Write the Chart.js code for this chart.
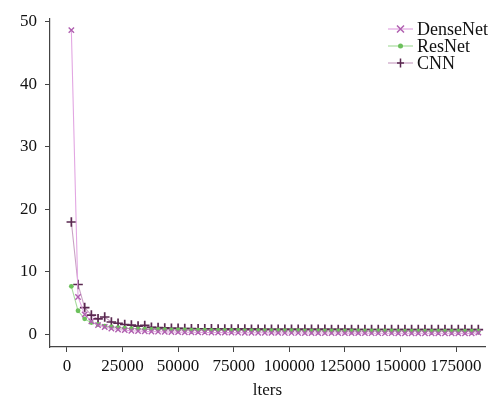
<!DOCTYPE html>
<html>
<head>
<meta charset="utf-8">
<script src="https://cdn.jsdelivr.net/npm/chart.js@4"></script>
<style>
  html, body { margin: 0; padding: 0; background: #fff; }
  #wrap { width: 502px; height: 405px; }
</style>
</head>
<body>
<div id="wrap"><canvas id="lossChart" width="502" height="405"></canvas></div>
<script>
// iterations where the loss was logged
const iters = [2000, 5000, 8000, 11000, 14000, 17000, 20000, 23000, 26000, 29000,
  32000, 35000, 38000, 41000, 44000, 47000, 50000, 53000, 56000, 59000,
  62000, 65000, 68000, 71000, 74000, 77000, 80000, 83000, 86000, 89000,
  92000, 95000, 98000, 101000, 104000, 107000, 110000, 113000, 116000, 119000,
  122000, 125000, 128000, 131000, 134000, 137000, 140000, 143000, 146000, 149000,
  152000, 155000, 158000, 161000, 164000, 167000, 170000, 173000, 176000, 179000,
  182000, 185000];

const denseNetLoss = [48.7, 6.0, 3.2, 2.1, 1.5, 1.2, 0.95, 0.8, 0.7, 0.6,
  0.55, 0.5, 0.48, 0.45, 0.42, 0.4, 0.38, 0.36, 0.35, 0.34,
  0.33, 0.32, 0.31, 0.3, 0.3, 0.29, 0.28, 0.28, 0.27, 0.27,
  0.26, 0.26, 0.25, 0.25, 0.25, 0.24, 0.24, 0.24, 0.23, 0.23,
  0.23, 0.22, 0.22, 0.22, 0.22, 0.21, 0.21, 0.21, 0.21, 0.2,
  0.2, 0.2, 0.2, 0.2, 0.19, 0.19, 0.19, 0.19, 0.19, 0.18,
  0.18, 0.3];

const resNetLoss = [7.7, 3.8, 2.5, 1.9, 1.6, 1.35, 1.2, 1.1, 1.0, 0.95,
  0.9, 0.85, 0.82, 0.8, 0.78, 0.75, 0.73, 0.72, 0.7, 0.7,
  0.68, 0.67, 0.66, 0.65, 0.65, 0.64, 0.63, 0.63, 0.62, 0.62,
  0.61, 0.61, 0.6, 0.6, 0.6, 0.59, 0.59, 0.59, 0.58, 0.58,
  0.58, 0.57, 0.57, 0.57, 0.57, 0.56, 0.56, 0.56, 0.56, 0.55,
  0.55, 0.55, 0.55, 0.55, 0.54, 0.54, 0.54, 0.54, 0.54, 0.53,
  0.53, 0.53];

const cnnLoss = [18.0, 8.0, 4.3, 3.1, 2.5, 2.8, 2.0, 1.8, 1.6, 1.5,
  1.35, 1.45, 1.15, 1.1, 1.05, 1.0, 0.98, 0.95, 0.93, 0.92,
  0.9, 0.9, 0.88, 0.88, 0.87, 0.86, 0.86, 0.85, 0.85, 0.84,
  0.84, 0.84, 0.83, 0.83, 0.83, 0.82, 0.82, 0.82, 0.82, 0.81,
  0.81, 0.81, 0.81, 0.8, 0.8, 0.8, 0.8, 0.8, 0.8, 0.79,
  0.79, 0.79, 0.79, 0.79, 0.78, 0.78, 0.78, 0.78, 0.78, 0.78,
  0.78, 0.78];

const xTicks = [0, 25000, 50000, 75000, 100000, 125000, 150000, 175000];
const yTicks = [0, 10, 20, 30, 40, 50];

const serif = "'Liberation Serif', 'Times New Roman', serif";
Chart.defaults.font.family = serif;
Chart.defaults.font.size = 17;
Chart.defaults.color = '#111';

function toPoints(ys) {
  return iters.map((x, i) => ({ x: x, y: ys[i] }));
}

// --- legend drawn by hand: short line with marker in the middle ---
const lineLegend = {
  id: 'lineLegend',
  afterDraw(chart) {
    const ctx = chart.ctx;
    const x0 = 388, x1 = 413, tx = 417;
    let y = 29;
    chart.data.datasets.forEach(ds => {
      ctx.save();
      ctx.strokeStyle = ds.borderColor;
      ctx.lineWidth = 1.2;
      ctx.beginPath();
      ctx.moveTo(x0, y); ctx.lineTo(x1, y);
      ctx.stroke();
      const mx = (x0 + x1) / 2, r = 3.5;
      ctx.strokeStyle = ds.pointBorderColor;
      ctx.fillStyle = ds.pointBackgroundColor;
      ctx.lineWidth = 1.5;
      ctx.beginPath();
      if (ds.pointStyle === 'crossRot') {
        ctx.moveTo(mx - r, y - r); ctx.lineTo(mx + r, y + r);
        ctx.moveTo(mx - r, y + r); ctx.lineTo(mx + r, y - r);
        ctx.stroke();
      } else if (ds.pointStyle === 'cross') {
        ctx.moveTo(mx - r, y); ctx.lineTo(mx + r, y);
        ctx.moveTo(mx, y - r - 1); ctx.lineTo(mx, y + r + 1);
        ctx.stroke();
      } else {
        ctx.arc(mx, y, 2.5, 0, Math.PI * 2);
        ctx.fill();
      }
      ctx.fillStyle = '#111';
      ctx.font = '18px ' + serif;
      ctx.textBaseline = 'middle';
      ctx.fillText(ds.label, tx, y + 1);
      ctx.restore();
      y += 17;
    });
  }
};

const tickFont = { family: serif, size: 17 };

const ctx = document.getElementById('lossChart').getContext('2d');
new Chart(ctx, {
  type: 'line',
  data: {
    datasets: [
      {
        label: 'DenseNet', data: toPoints(denseNetLoss),
        borderColor: '#e2a6e2', borderWidth: 1.1,
        pointStyle: 'crossRot', pointRadius: 3.8, pointBorderWidth: 1.4,
        pointBorderColor: '#b060b0', pointBackgroundColor: '#b060b0'
      },
      {
        label: 'ResNet', data: toPoints(resNetLoss),
        borderColor: '#a8dc9e', borderWidth: 1.1,
        pointStyle: 'circle', pointRadius: 2.4, pointBorderWidth: 0,
        pointBorderColor: '#6cc05c', pointBackgroundColor: '#6cc05c'
      },
      {
        label: 'CNN', data: toPoints(cnnLoss),
        borderColor: '#c9a2c4', borderWidth: 1.1,
        pointStyle: 'cross', pointRadius: 4.8, pointBorderWidth: 1.7,
        pointBorderColor: '#5a2850', pointBackgroundColor: '#5a2850'
      }
    ]
  },
  options: {
    responsive: false,
    animation: false,
    layout: { padding: { top: 14, right: 17, left: 0, bottom: 0 } },
    plugins: { legend: { display: false }, tooltip: { enabled: false } },
    elements: { line: { tension: 0 } },
    scales: {
      x: {
        type: 'linear', min: -7600, max: 188000,
        afterBuildTicks: s => { s.ticks = xTicks.map(v => ({ value: v })); },
        afterFit: s => { s.height = 58; },
        grid: { display: true, drawOnChartArea: false, drawTicks: true, tickLength: 5, color: '#444' },
        border: { display: true, color: '#444', width: 1.2 },
        ticks: { color: '#111', font: tickFont, padding: 4, maxRotation: 0, autoSkip: false,
                 callback: v => String(v) },
        title: { display: true, text: 'lters', color: '#111', font: tickFont, padding: { top: 4 } }
      },
      y: {
        type: 'linear', min: -2, max: 50.6,
        afterBuildTicks: s => { s.ticks = yTicks.map(v => ({ value: v })); },
        afterFit: s => { s.width = 50; },
        grid: { display: true, drawOnChartArea: false, drawTicks: true, tickLength: 5, color: '#444' },
        border: { display: true, color: '#444', width: 1.2 },
        ticks: { color: '#111', font: tickFont, padding: 8, callback: v => String(v) }
      }
    }
  },
  plugins: [lineLegend]
});
</script>
</body>
</html>
